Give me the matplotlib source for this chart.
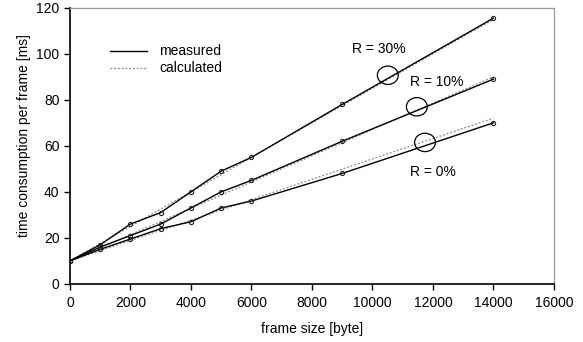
import matplotlib.pyplot as plt
from matplotlib.patches import Ellipse

plt.rcParams['font.family'] = ['Liberation Sans', 'DejaVu Sans']

# frame sizes [byte]
frame_size = [0, 1000, 2000, 3000, 4000, 5000, 6000, 9000, 14000]

# measured time consumption per frame [ms]
meas_r30 = [10, 17, 26, 31, 40, 49, 55, 78, 115.5]
meas_r10 = [10, 16, 21, 26, 33, 40, 45, 62, 89]
meas_r0 = [10, 15, 19.5, 24, 27, 33, 36, 48, 70]

# calculated time consumption per frame [ms]
calc_r30 = [10, 17.5, 25, 32.5, 40, 47.5, 55, 77.5, 115]
calc_r10 = [10, 15.7, 21.4, 27.1, 32.9, 38.6, 44.3, 61.4, 90]
calc_r0 = [10, 14.4, 18.9, 23.3, 27.7, 32.1, 36.6, 49.9, 72]

labels = ['R = 30%', 'R = 10%', 'R = 0%']
label_pos = [(10220, 102), (12130, 87.8), (12010, 48.8)]
ellipse_pos = [(10510, 90.7), (11470, 77), (11740, 61.5)]

FS = 10

fig = plt.figure(figsize=(5.83, 3.42), dpi=100)
ax = fig.add_axes([0.120, 0.170, 0.830, 0.807])

for meas in (meas_r30, meas_r10, meas_r0):
    ax.plot(frame_size, meas, color='black', linewidth=1.0, marker='o', markersize=3.0,
            markerfacecolor='none', markeredgecolor='#222222', markeredgewidth=0.8, zorder=3)
for calc in (calc_r30, calc_r10, calc_r0):
    ax.plot(frame_size, calc, color='#888888', linewidth=0.9, linestyle=(0, (1.5, 1.5)), zorder=2)

for (x, y) in ellipse_pos:
    ax.add_patch(Ellipse((x, y), 690, 8, fill=False, edgecolor='black', linewidth=0.9, zorder=4))
for lab, (x, y) in zip(labels, label_pos):
    ax.text(x, y, lab, fontsize=FS, ha='center', va='center')

# hand-made legend
ax.plot([1320, 2560], [101.3, 101.3], color='black', linewidth=1.0)
ax.plot([1320, 2560], [93.9, 93.9], color='#888888', linewidth=0.9, linestyle=(0, (1.5, 1.5)))
ax.text(2950, 101.3, 'measured', fontsize=FS, va='center')
ax.text(2950, 93.9, 'calculated', fontsize=FS, va='center')

ax.set_xlim(0, 16000)
ax.set_ylim(0, 120)
ax.set_xticks(range(0, 16001, 2000))
ax.set_yticks(range(0, 121, 20))
ax.set_xlabel('frame size [byte]', fontsize=FS)
ax.set_ylabel('time consumption per frame [ms]', fontsize=FS)
ax.yaxis.set_label_coords(-0.081, 0.538)
ax.xaxis.set_label_coords(0.5, -0.138)
ax.tick_params(axis='both', direction='out', length=4, width=1, labelsize=FS)
ax.tick_params(axis='x', pad=5)
for side in ('left', 'bottom'):
    ax.spines[side].set_linewidth(1.2)
for side in ('top', 'right'):
    ax.spines[side].set_color('#999999')
    ax.spines[side].set_linewidth(0.9)

fig.savefig('out.png', dpi=100)
